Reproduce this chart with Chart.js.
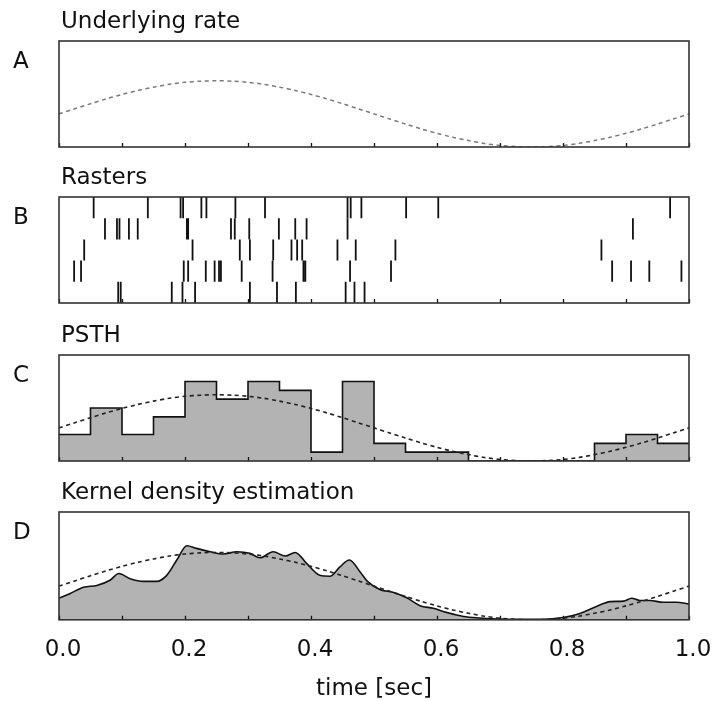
<!DOCTYPE html>
<html>
<head>
<meta charset="utf-8">
<script src="https://cdn.jsdelivr.net/npm/chart.js@4.4.1/dist/chart.umd.min.js"></script>
<style>
  html, body { margin: 0; padding: 0; background: #fff; }
  #wrap { position: relative; width: 717px; height: 701px; overflow: hidden; }
  canvas { position: absolute; left: 0; }
</style>
</head>
<body>
<div id="wrap">
  <canvas id="panelA" width="717" height="156" style="top:0px"></canvas>
  <canvas id="panelB" width="717" height="156" style="top:156px"></canvas>
  <canvas id="panelC" width="717" height="156" style="top:314px"></canvas>
  <canvas id="panelD" width="717" height="233" style="top:470px"></canvas>
</div>
<script>
// underlying rate (Hz)
let rateTime = [0, 0.025, 0.05, 0.075, 0.1, 0.125, 0.15, 0.175, 0.2, 0.225, 0.25, 0.275, 0.3, 0.325, 0.35, 0.375, 0.4,
  0.425, 0.45, 0.475, 0.5, 0.525, 0.55, 0.575, 0.6, 0.625, 0.65, 0.675, 0.7, 0.725, 0.75, 0.775, 0.8, 0.825,
  0.85, 0.875, 0.9, 0.925, 0.95, 0.975, 1.0];
let rateValue = [15.0, 17.3, 19.6, 21.8, 23.8, 25.6, 27.1, 28.4, 29.3, 29.8, 30.0, 29.8, 29.3, 28.4, 27.1, 25.6, 23.8,
  21.8, 19.6, 17.3, 15.0, 12.7, 10.4, 8.2, 6.2, 4.4, 2.9, 1.6, 0.7, 0.2, 0.0, 0.2, 0.7, 1.6,
  2.9, 4.4, 6.2, 8.2, 10.4, 12.7, 15.0];

// spike times (sec), one list per trial, top row first
let trial1 = [0.055, 0.141, 0.193, 0.197, 0.226, 0.234, 0.280, 0.327, 0.458, 0.463, 0.480, 0.551, 0.602, 0.970];
let trial2 = [0.073, 0.092, 0.096, 0.111, 0.125, 0.203, 0.205, 0.273, 0.279, 0.302, 0.349, 0.375, 0.393, 0.458, 0.911];
let trial3 = [0.040, 0.212, 0.287, 0.303, 0.340, 0.369, 0.378, 0.386, 0.442, 0.471, 0.534, 0.861];
let trial4 = [0.024, 0.035, 0.198, 0.205, 0.233, 0.247, 0.254, 0.257, 0.290, 0.339, 0.388, 0.391, 0.462, 0.527, 0.878, 0.908, 0.937, 0.988];
let trial5 = [0.094, 0.098, 0.179, 0.196, 0.216, 0.303, 0.346, 0.376, 0.455, 0.469, 0.485];
let trials = [trial1, trial2, trial3, trial4, trial5];

// PSTH, 0.05 s bins (Hz)
let binEdges = [0, 0.05, 0.1, 0.15, 0.2, 0.25, 0.3, 0.35, 0.4, 0.45, 0.5, 0.55, 0.6, 0.65, 0.7, 0.75, 0.8, 0.85, 0.9, 0.95, 1.0];
let psthRate = [12, 24, 12, 20, 36, 28, 36, 32, 4, 36, 8, 4, 4, 0, 0, 0, 0, 8, 12, 8];

// kernel density estimate (Hz)
let kdeTime = [0, 0.017, 0.039, 0.06, 0.081, 0.095, 0.113, 0.134, 0.155, 0.171, 0.187, 0.203, 0.218, 0.24, 0.261,
  0.282, 0.303, 0.319, 0.34, 0.359, 0.375, 0.393, 0.414, 0.43, 0.446, 0.461, 0.478, 0.49, 0.51, 0.53, 0.552,
  0.573, 0.594, 0.615, 0.642, 0.668, 0.7, 0.732, 0.769, 0.8, 0.827, 0.853, 0.875, 0.896, 0.909, 0.922, 0.938,
  0.959, 0.98, 1.0];
let kdeRate = [9.6, 11.6, 14.5, 15.3, 17.6, 20.6, 18.3, 17.1, 17.1, 19.8, 26.6, 33.0, 31.8, 30.3, 29.3,
  30.3, 29.6, 27.6, 30.3, 28.4, 30.0, 25.1, 19.8, 19.4, 23.6, 26.6, 21.3, 17.0, 13.4, 12.3, 9.8,
  6.3, 5.1, 3.3, 1.5, 0.8, 0.3, 0.2, 0.2, 1.0, 2.8, 5.9, 8.1, 8.3, 9.6, 8.6, 8.6,
  7.8, 7.8, 7.1];

let xTicks = [0, 0.1, 0.2, 0.3, 0.4, 0.5, 0.6, 0.7, 0.8, 0.9, 1.0];

const FONT = '"DejaVu Sans", "Liberation Sans", sans-serif';
const GREY_FILL = "#b3b3b3";

function pts(xs, ys) {
  return xs.map((x, i) => ({ x: x, y: ys[i] }));
}

// frame, inside ticks, panel title and letter
const panelFrame = {
  id: "panelFrame",
  afterDatasetsDraw(chart, args, o) {
    const ctx = chart.ctx;
    const a = chart.chartArea;
    const x = chart.scales.x;
    ctx.save();
    ctx.strokeStyle = "#111";
    ctx.lineWidth = 1.3;
    ctx.beginPath();
    xTicks.forEach(v => {
      const px = Math.round(x.getPixelForValue(v)) + 0.5;
      ctx.moveTo(px, a.bottom);
      ctx.lineTo(px, a.bottom - 4);
    });
    ctx.stroke();
    ctx.strokeStyle = "#333";
    ctx.lineWidth = 1.6;
    ctx.strokeRect(a.left, a.top, a.right - a.left, a.bottom - a.top);
    ctx.fillStyle = "#111";
    ctx.font = "23px " + FONT;
    ctx.textBaseline = "alphabetic";
    ctx.textAlign = "left";
    ctx.fillText(o.title, a.left + 2, a.top - 13);
    ctx.fillText(o.letter, 13, a.top + 27);
    ctx.restore();
  }
};

function makePanel(id, title, letter, datasets, yMax, showAxis) {
  const xScale = {
    type: "linear", min: 0, max: 1,
    display: showAxis,
    grid: { display: false, drawTicks: false },
    border: { display: false },
    afterFit: s => { s.paddingLeft = 0; s.paddingRight = 0; },
    ticks: {
      stepSize: 0.1, autoSkip: false, maxRotation: 0, padding: 16, labelOffset: 4,
      color: "#111", font: { family: FONT, size: 23 },
      callback: v => (Math.round(v * 10) % 2 === 0 ? v.toFixed(1) : "")
    },
    title: {
      display: showAxis, text: "time [sec]", color: "#111",
      font: { family: FONT, size: 23 }, padding: { top: -4, bottom: 0 }
    }
  };
  return new Chart(document.getElementById(id), {
    type: "line",
    data: { datasets: datasets },
    options: {
      responsive: false,
      animation: false,
      events: [],
      layout: { padding: { top: showAxis ? 42 : 41, left: 59, right: 28, bottom: showAxis ? 0 : 9 } },
      scales: {
        x: xScale,
        y: { display: false, min: 0, max: yMax }
      },
      plugins: {
        legend: { display: false },
        tooltip: { enabled: false },
        panelFrame: { title: title, letter: letter }
      }
    },
    plugins: [panelFrame]
  });
}

function dashedRate(color, width) {
  return {
    data: pts(rateTime, rateValue),
    borderColor: color, borderWidth: width, borderDash: [4, 3.5],
    pointRadius: 0, tension: 0.3, fill: false, order: 0
  };
}

// A
makePanel("panelA", "Underlying rate", "A", [dashedRate("#7a7a7a", 1.5)], 48, false);

// B rasters: one vertical segment per spike
let rasterSets = trials.map((spikes, k) => {
  const top = 5 - k, bottom = 4 - k;
  const data = [];
  spikes.forEach(t => {
    data.push({ x: t, y: bottom }, { x: t, y: top }, { x: t, y: null });
  });
  return {
    data: data, borderColor: "#111", borderWidth: 1.8,
    pointRadius: 0, spanGaps: false, fill: false
  };
});
makePanel("panelB", "Rasters", "B", rasterSets, 5, false);

// C PSTH
let psthPts = pts(binEdges, psthRate.concat([psthRate[psthRate.length - 1]]));
makePanel("panelC", "PSTH", "C", [
  dashedRate("#222", 1.6),
  {
    data: psthPts, stepped: true,
    borderColor: "#111", borderWidth: 1.6, backgroundColor: GREY_FILL,
    fill: "origin", pointRadius: 0, order: 1
  }
], 48, false);

// D kernel density
makePanel("panelD", "Kernel density estimation", "D", [
  dashedRate("#222", 1.6),
  {
    data: pts(kdeTime, kdeRate),
    borderColor: "#111", borderWidth: 1.6, backgroundColor: GREY_FILL,
    fill: "origin", pointRadius: 0, cubicInterpolationMode: "monotone", order: 1
  }
], 48, true);
</script>
</body>
</html>
